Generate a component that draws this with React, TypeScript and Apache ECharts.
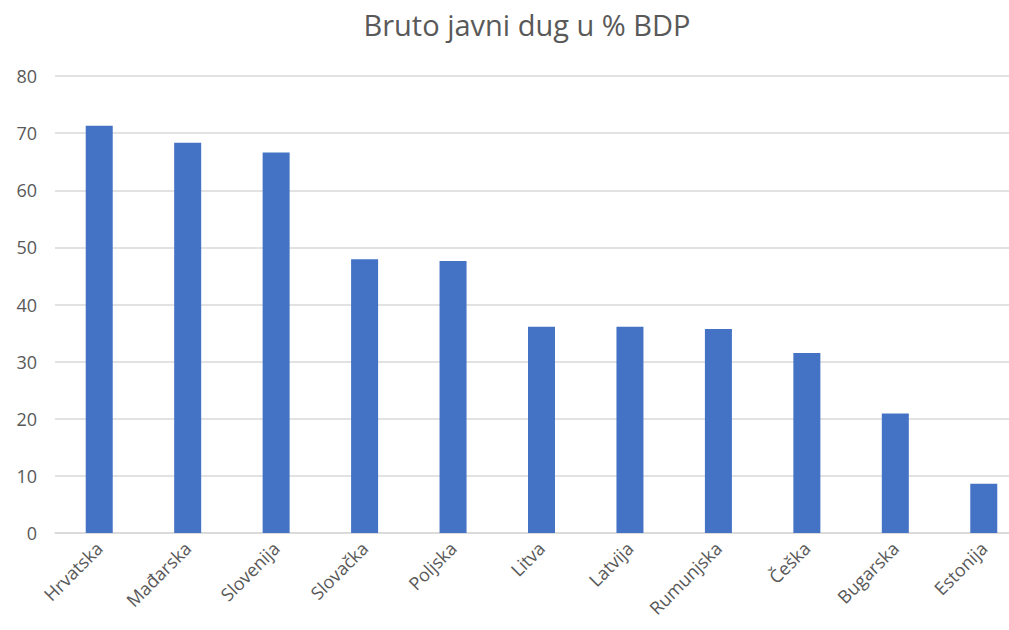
import React, { useEffect, useRef } from "react";
import * as echarts from "echarts";

const categories = [
  "Hrvatska",
  "Mađarska",
  "Slovenija",
  "Slovačka",
  "Poljska",
  "Litva",
  "Latvija",
  "Rumunjska",
  "Češka",
  "Bugarska",
  "Estonija",
];
const debtValues = [71.3, 68.3, 66.6, 47.9, 47.6, 36.1, 36.1, 35.7, 31.5, 20.9, 8.6];
const titleText = "Bruto javni dug u % BDP";

export default function App() {
  const ref = useRef<HTMLDivElement>(null);
  useEffect(() => {
    if (!ref.current) return;
    const chart = echarts.init(ref.current, null, { renderer: "svg" });
    const font = "'Open Sans', 'Noto Sans', sans-serif";
    chart.setOption({
      animation: false,
      backgroundColor: "#ffffff",
      title: {
        text: titleText,
        left: 522,
        top: 5,
        textAlign: "center",
        textStyle: { fontFamily: font, fontSize: 29, fontWeight: "normal", color: "#595959" },
      },
      grid: {
        left: 55,
        top: 76,
        width: 973,
        height: 457,
        containLabel: false,
        outerBoundsMode: "none",
      },
      xAxis: {
        type: "category",
        data: categories,
        axisLine: { show: true, lineStyle: { color: "#d9d9d9", width: 1.5 } },
        axisTick: { show: false },
        axisLabel: {
          rotate: 45,
          interval: 0,
          margin: 12,
          fontFamily: font,
          fontSize: 18,
          color: "#595959",
        },
      },
      yAxis: {
        type: "value",
        min: 0,
        max: 80,
        interval: 10,
        axisLine: { show: false },
        axisTick: { show: false },
        splitLine: { lineStyle: { color: "#d9d9d9", width: 1.5 } },
        axisLabel: { margin: 18, fontFamily: font, fontSize: 18, color: "#595959" },
      },
      series: [
        {
          type: "bar",
          data: debtValues,
          barWidth: 27,
          itemStyle: { color: "#4472C4" },
        },
      ],
    });
    return () => chart.dispose();
  }, []);
  return (
    <div
      ref={ref}
      style={{ position: "fixed", left: 0, top: 0, width: 1009, height: 630, background: "#fff" }}
    />
  );
}
